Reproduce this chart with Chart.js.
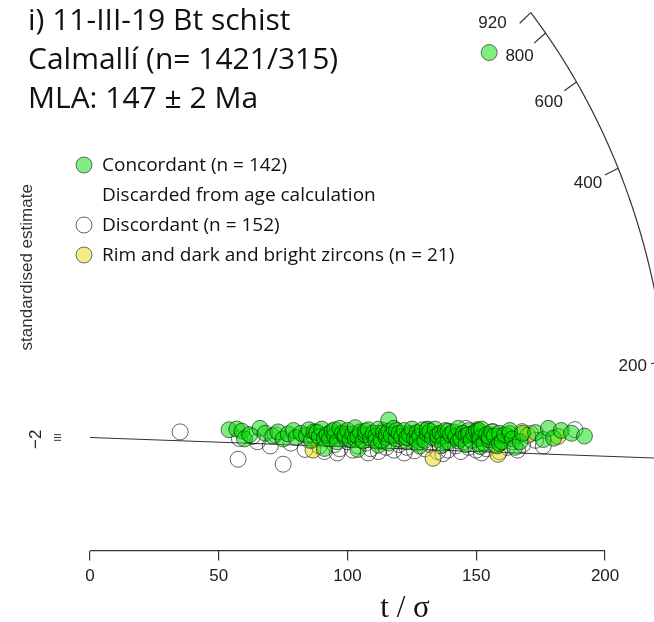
<!DOCTYPE html>
<html>
<head>
<meta charset="utf-8">
<title>Radial plot 11-III-19</title>
<script src="https://cdn.jsdelivr.net/npm/chart.js@4.4.1/dist/chart.umd.min.js"></script>
<style>
html, body { margin: 0; padding: 0; background: #fff; }
canvas { display: block; }
</style>
</head>
<body>
<canvas id="radial" width="654" height="622"></canvas>
<script>
// points are [t/sigma, standardised estimate]
var concordant = [
	[54,5.5],[57,6],[59,4.5],[60,-1],[62,2],[66,6.5],[68,3],[71,1],[73,4],[75,-1],[77,2.5],[79,5],[80,0],[82,3],
	[84,1.5],[85,5.5],[86,-2],[87,4],[88,3.5],[89,0.5],[90,6],[91,-0.5],[91,-7.8],[92,2],[93,-1],[94,4.5],[95,1],[95,5.5],
	[96,-3],[97,6.5],[98,3],[99,0],[99,2],[100,5],[101,-1.5],[102,2.5],[103,7],[103,-1],[104,0.5],[104,-8.5],[105,4],
	[106,-2.5],[107,2],[107,4.5],[108,5.5],[109,-0.5],[110,3],[111,1],[111,-2.5],[112,6],[112,-5.5],[113,-2],[114,3.5],
	[115,0],[115,2.5],[116,4.5],[116,-4],[116,12.5],[117,1.5],[118,6.5],[119,-1],[119,5],[120,3],[121,0.5],[122,5],
	[123,-3],[123,0],[124,2],[125,6],[126,-0.5],[127,3.5],[127,-2],[128,1],[128,-6],[129,5.5],[130,-2],[131,2.5],
	[131,5.5],[132,4.5],[133,0],[134,6],[135,-1.5],[135,1.5],[136,3],[137,1],[137,-5],[138,5],[139,-3],[139,4.5],
	[140,2],[141,4],[142,0.5],[143,6.5],[143,-2.5],[144,-1],[145,3],[146,1.5],[146,-5],[147,5],[147,2],[148,-2],
	[149,2.5],[150,4.5],[151,0],[151,5],[151.5,-0.7],[151.5,-6.4],[152,6],[153,-4],[154,2],[155,-1.5],[155,0.5],[156,4],
	[157,1],[158,-6],[159,-4.2],[159,3],[160,-3],[161,2],[163,2.8],[163,5],[164,-1],[165,-7],[167,-3],[168,3],
	[173,3.5],[176,-1.4],[178,6.5],[180,-0.5],[183,5],[187,3],[192,1],
	[155,274]
];
var discordant = [
	[35,4],[58,-0.7],[57.5,-15.5],[63,0.7],[65,-3],[70,-6],[72,2],[75,-19],[78,-4],[83.5,-8.5],[85,-2],[87,1],[88,4],
	[89,-6],[91,-10],[93,3],[95,-5],[96,-11],[97,-8],[99,1],[100,-3],[102,-9],[104,-6],[105,2],[107,-4],[108,-11],
	[109,-8],[110,0],[112,-10],[113,-3],[114,5],[115,-7],[117,1],[118,-9],[120,-5],[121,-2],[122,-11],[123,-7],[124,3],
	[126,-9.5],[127,-4],[129,-1],[130,-8],[131,6],[132,-5],[133,2],[135,-10],[136,-6],[137,-11.5],[138,-3],[139,-9],
	[141,0],[142,-6],[144,-10],[145,-3],[146,6.5],[147,-7],[148,2],[150,-9],[151,-4],[152,-11],[153,-1],[154,-8],
	[156.5,4.2],[157,-5],[159,-10],[160,1],[162,-7],[164,-3],[166,-9],[168,-5],[171,2.8],[173,-2],[176,-6],[188.3,5.6]
];
var rimZircons = [
	[133.2,-14.8],[158.4,-12],[181.7,0.7],[167.8,4.2],[150.3,5.6],[86.6,-9],[95,2.5],[99,1],[105,2],[112,3],[118,2],
	[120,1.5],[125,2],[128,3],[134,2.5],[138,1],[142,2],[145,3],[155,2],[162,1],[170,1.5]
];
var xTicks = [0, 50, 100, 150, 200];
var yTicks = [-2, 0, 2];
var arcTicks = [200, 400, 600, 800, 920];
var mla = 147;

var titleLines = ['i) 11-III-19 Bt schist', 'Calmallí (n= 1421/315)', 'MLA: 147 ± 2 Ma'];
var legendLabels = ['Concordant (n = 142)', 'Discarded from age calculation', 'Discordant (n = 152)', 'Rim and dark and bright zircons (n = 21)'];

// radial scale geometry (log ages, reference value and arc shape)
var z0 = 5.057;
var arcR = 225;
var arcC = 0.483;
var arcMinAge = 110;

function arcPoint(t) {
	var m = Math.log(t) - z0;
	var x = arcR / Math.sqrt(1 + arcC * arcC * m * m);
	return { x: x, y: m * x };
}

function toXY(list) {
	return list.map(function (p) { return { x: p[0], y: p[1] }; });
}

var greenFill = 'rgba(0,220,0,0.5)';
var yellowFill = 'rgba(225,215,0,0.48)';
var ringColor = 'rgba(0,0,0,0.55)';

var mlaSlope = Math.log(mla) - z0;
var mlaLine = [{ x: 0, y: 0 }, { x: arcR, y: mlaSlope * arcR }];

var decor = {
	id: 'radialDecor',
	beforeDatasetsDraw: function (chart) {
		var ctx = chart.ctx, xs = chart.scales.x, ys = chart.scales.y, area = chart.chartArea;
		ctx.save();
		ctx.strokeStyle = '#333';
		ctx.lineWidth = 1.2;

		// age arc
		ctx.beginPath();
		var first = true;
		for (var lt = Math.log(arcTicks[arcTicks.length - 1]); lt >= Math.log(arcMinAge); lt -= 0.004) {
			var p = arcPoint(Math.exp(lt));
			var px = xs.getPixelForValue(p.x), py = ys.getPixelForValue(p.y);
			if (first) { ctx.moveTo(px, py); first = false; } else ctx.lineTo(px, py);
		}
		ctx.stroke();

		// arc ticks + labels
		ctx.font = '17px "Liberation Sans", Arial, sans-serif';
		ctx.fillStyle = '#222';
		ctx.textBaseline = 'middle';
		arcTicks.forEach(function (t, i) {
			var p = arcPoint(t);
			var ax = xs.getPixelForValue(p.x), ay = ys.getPixelForValue(p.y);
			var bx = xs.getPixelForValue(p.x * 0.975), by = ys.getPixelForValue(p.y * 0.975);
			ctx.beginPath();
			ctx.moveTo(ax, ay);
			ctx.lineTo(bx, by);
			ctx.stroke();
			if (i === arcTicks.length - 1) {
				// the end label sits left of its tick
				ctx.textAlign = 'right';
				ctx.fillText(String(t), bx - 13, by);
			} else {
				ctx.textAlign = 'center';
				ctx.fillText(String(t), xs.getPixelForValue(p.x * 0.943), ys.getPixelForValue(p.y * 0.943));
			}
		});

		// x axis line, only over the tick range
		ctx.beginPath();
		ctx.moveTo(xs.getPixelForValue(xTicks[0]), area.bottom);
		ctx.lineTo(xs.getPixelForValue(xTicks[xTicks.length - 1]), area.bottom);
		ctx.stroke();

		// small y axis at the left of the origin
		var axX = area.left - 29;
		ctx.lineWidth = 1;
		ctx.beginPath();
		yTicks.forEach(function (v) {
			var y = ys.getPixelForValue(v);
			ctx.moveTo(axX, y);
			ctx.lineTo(axX - 7, y);
		});
		ctx.stroke();

		ctx.save();
		ctx.translate(area.left - 54, ys.getPixelForValue(yTicks[0]) - 1);
		ctx.rotate(-Math.PI / 2);
		ctx.textAlign = 'center';
		ctx.textBaseline = 'middle';
		ctx.fillText(String(yTicks[0]).replace('-', '\u2212'), 0, 0);
		ctx.restore();

		ctx.save();
		ctx.translate(area.left - 63, (area.top + area.bottom) / 2 - 8);
		ctx.rotate(-Math.PI / 2);
		ctx.textAlign = 'center';
		ctx.textBaseline = 'middle';
		ctx.fillStyle = '#333';
		ctx.fillText('standardised estimate', 0, 0);
		ctx.restore();

		ctx.restore();
	},
	afterDraw: function (chart) {
		var ctx = chart.ctx, area = chart.chartArea;
		ctx.save();

		// x axis title
		ctx.font = '31px "Liberation Serif", "Times New Roman", serif';
		ctx.fillStyle = '#111';
		ctx.textAlign = 'center';
		ctx.textBaseline = 'alphabetic';
		ctx.fillText('t / \u03c3', area.left + 315, 617);

		// title block
		ctx.font = '30px "Open Sans", "Noto Sans", sans-serif';
		ctx.textAlign = 'left';
		titleLines.forEach(function (s, i) {
			ctx.fillText(s, 28, 29.5 + i * 39);
		});

		// legend
		var markers = [
			{ fill: greenFill, stroke: ringColor },
			null,
			{ fill: 'rgba(255,255,255,1)', stroke: 'rgba(0,0,0,0.6)' },
			{ fill: yellowFill, stroke: ringColor }
		];
		ctx.font = '19px "Open Sans", "Noto Sans", sans-serif';
		legendLabels.forEach(function (s, i) {
			var base = 171 + i * 30;
			if (markers[i]) {
				ctx.beginPath();
				ctx.arc(84, base - 6, 8, 0, Math.PI * 2);
				ctx.fillStyle = markers[i].fill;
				ctx.fill();
				ctx.strokeStyle = markers[i].stroke;
				ctx.lineWidth = 1;
				ctx.stroke();
			}
			ctx.fillStyle = '#111';
			ctx.fillText(s, 102, base);
		});
		ctx.restore();
	}
};

var ctx = document.getElementById('radial');

var radialChart = new Chart(ctx, {
	type: 'scatter',
	data: {
		datasets: [
			{
				label: 'Concordant',
				data: toXY(concordant),
				backgroundColor: greenFill,
				borderColor: ringColor,
				borderWidth: 1,
				pointRadius: 8,
				order: 2
			},
			{
				label: 'Rim and dark and bright zircons',
				data: toXY(rimZircons),
				backgroundColor: yellowFill,
				borderColor: ringColor,
				borderWidth: 1,
				pointRadius: 8,
				order: 3
			},
			{
				label: 'Discordant',
				data: toXY(discordant),
				backgroundColor: 'rgba(255,255,255,0)',
				borderColor: 'rgba(0,0,0,0.6)',
				borderWidth: 1,
				pointRadius: 8,
				order: 4
			},
			{
				type: 'line',
				label: 'MLA',
				data: mlaLine,
				borderColor: '#333',
				borderWidth: 1.2,
				pointRadius: 0,
				fill: false,
				order: 5
			}
		]
	},
	options: {
		responsive: false,
		animation: false,
		layout: { autoPadding: false, padding: { left: 90, right: 0, top: 0, bottom: 29 } },
		plugins: {
			legend: { display: false },
			tooltip: { enabled: false }
		},
		scales: {
			x: {
				type: 'linear',
				min: 0,
				max: 219,
				afterBuildTicks: function (scale) {
					scale.ticks = xTicks.map(function (v) { return { value: v }; });
				},
				grid: { drawOnChartArea: false, drawTicks: true, tickLength: 10, color: '#333', lineWidth: 1.2 },
				border: { display: false },
				ticks: {
					padding: 6,
					color: '#222',
					autoSkip: false,
					maxRotation: 0,
					font: { family: '"Liberation Sans", Arial, sans-serif', size: 17 }
				}
			},
			y: {
				type: 'linear',
				min: -80.5,
				max: 311.4,
				display: false
			}
		}
	},
	plugins: [decor]
});
</script>
</body>
</html>
